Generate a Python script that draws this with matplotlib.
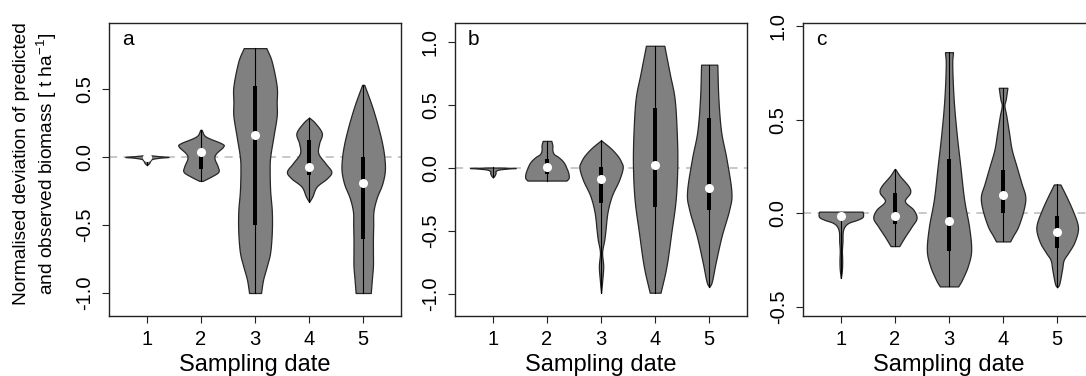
import numpy as np
import matplotlib
matplotlib.use("Agg")
import matplotlib.pyplot as plt
from matplotlib.patches import Rectangle

plt.rcParams['font.family'] = ['Liberation Sans', 'DejaVu Sans']
plt.rcParams['mathtext.default'] = 'regular'
plt.rcParams['axes.unicode_minus'] = False

# ---------------- data ----------------
dates = [1, 2, 3, 4, 5]
panel_labels = ['a', 'b', 'c']

# Panel a: violin outlines (value levels, half-widths)
a1_y = [-0.06, -0.045, -0.03, -0.015, -0.005, 0.0, 0.007, 0.015]
a1_w = [0.0, 0.04, 0.06, 0.10, 0.25, 0.40, 0.20, 0.0]
a2_y = [-0.176, -0.145, -0.11, -0.07, -0.01, 0.027, 0.076, 0.10, 0.15, 0.20]
a2_w = [0.03, 0.185, 0.32, 0.31, 0.25, 0.28, 0.41, 0.38, 0.09, 0.01]
a3_y = [-1.0, -0.9, -0.8, -0.7, -0.55, -0.4, -0.25, -0.1, 0.0, 0.15, 0.3, 0.4, 0.52, 0.7, 0.8]
a3_w = [0.11, 0.15, 0.22, 0.28, 0.31, 0.31, 0.28, 0.27, 0.28, 0.34, 0.40, 0.40, 0.40, 0.31, 0.21]
a4_y = [-0.33, -0.29, -0.218, -0.157, -0.108, -0.046, 0.027, 0.10, 0.175, 0.25, 0.29]
a4_w = [0.0, 0.06, 0.14, 0.33, 0.41, 0.30, 0.17, 0.185, 0.235, 0.11, 0.0]
a5_y = [-1.0, -0.9, -0.8, -0.7, -0.6, -0.5, -0.4, -0.3, -0.2, -0.1, 0.0, 0.1, 0.2, 0.3, 0.4, 0.53]
a5_w = [0.14, 0.16, 0.18, 0.18, 0.18, 0.185, 0.19, 0.25, 0.35, 0.40, 0.39, 0.35, 0.29, 0.22, 0.14, 0.02]
a_median = [0.0, 0.04, 0.16, -0.075, -0.19]
a_q1 = [-0.005, -0.085, -0.50, -0.13, -0.60]
a_q3 = [0.005, 0.05, 0.52, 0.125, 0.0]

# Panel b
b1_y = [-0.075, -0.06, -0.04, -0.025, -0.012, -0.004, 0.0, 0.004]
b1_w = [0.0, 0.03, 0.05, 0.05, 0.12, 0.30, 0.41, 0.0]
b2_y = [-0.10, -0.08, -0.05, -0.02, 0.0, 0.03, 0.06, 0.09, 0.11, 0.14, 0.18, 0.215]
b2_w = [0.36, 0.40, 0.40, 0.38, 0.36, 0.33, 0.28, 0.20, 0.13, 0.10, 0.10, 0.08]
b3_y = [-0.99, -0.9, -0.78, -0.67, -0.57, -0.5, -0.35, -0.22, -0.1, 0.0, 0.05, 0.1, 0.16, 0.22]
b3_w = [0.0, 0.02, 0.04, 0.02, 0.06, 0.08, 0.12, 0.20, 0.33, 0.40, 0.37, 0.30, 0.17, 0.0]
b4_y = [-0.99, -0.78, -0.51, -0.25, 0.02, 0.28, 0.55, 0.75, 0.97]
b4_w = [0.10, 0.21, 0.30, 0.38, 0.41, 0.40, 0.36, 0.27, 0.17]
b5_y = [-0.945, -0.9, -0.75, -0.54, -0.33, -0.19, 0.07, 0.29, 0.55, 0.82]
b5_w = [0.0, 0.05, 0.12, 0.23, 0.37, 0.41, 0.32, 0.22, 0.17, 0.15]
b_median = [np.nan, 0.01, -0.09, 0.02, -0.16]
b_q1 = [-0.004, -0.05, -0.28, -0.31, -0.33]
b_q3 = [0.0, 0.07, 0.01, 0.48, 0.40]

# Panel c
c1_y = [-0.345, -0.3, -0.25, -0.2, -0.15, -0.1, -0.07, -0.05, -0.035, -0.02, 0.0, 0.009]
c1_w = [0.0, 0.02, 0.025, 0.02, 0.03, 0.035, 0.07, 0.15, 0.30, 0.40, 0.41, 0.40]
c2_y = [-0.175, -0.125, -0.07, -0.025, 0.02, 0.065, 0.11, 0.145, 0.2, 0.235]
c2_w = [0.08, 0.185, 0.31, 0.40, 0.34, 0.185, 0.28, 0.25, 0.09, 0.01]
c3_y = [-0.39, -0.355, -0.28, -0.195, -0.07, 0.073, 0.25, 0.43, 0.61, 0.79, 0.86]
c3_w = [0.17, 0.24, 0.35, 0.41, 0.37, 0.28, 0.21, 0.14, 0.086, 0.06, 0.074]
c4_y = [-0.15, -0.12, -0.07, 0.02, 0.09, 0.16, 0.25, 0.34, 0.43, 0.52, 0.575, 0.61, 0.67]
c4_w = [0.13, 0.185, 0.28, 0.38, 0.41, 0.34, 0.25, 0.16, 0.11, 0.06, 0.025, 0.05, 0.08]
c5_y = [-0.395, -0.375, -0.30, -0.25, -0.213, -0.16, -0.097, -0.05, 0.02, 0.09, 0.154]
c5_w = [0.0, 0.04, 0.09, 0.12, 0.20, 0.31, 0.38, 0.37, 0.28, 0.17, 0.06]
c_median = [-0.015, -0.015, -0.04, 0.10, -0.10]
c_q1 = [-0.03, -0.055, -0.20, 0.0, -0.186]
c_q3 = [0.0, 0.11, 0.29, 0.23, -0.016]

a_ticks = [-1.0, -0.5, 0.0, 0.5]
b_ticks = [-1.0, -0.5, 0.0, 0.5, 1.0]
c_ticks = [-0.5, 0.0, 0.5, 1.0]

xlabel = 'Sampling date'
ylabel = 'Normalised deviation of predicted\nand observed biomass [ t ha$^{-1}$]'

# ---------------- drawing ----------------
def smooth(ys, ws, n=20):
    """Catmull-Rom curve through the read outline points."""
    P = np.column_stack([ys, ws]).astype(float)
    P = np.vstack([2 * P[0] - P[1], P, 2 * P[-1] - P[-2]])
    out = []
    t = np.linspace(0, 1, n, endpoint=False)[:, None]
    for i in range(1, len(P) - 2):
        p0, p1, p2, p3 = P[i - 1], P[i], P[i + 1], P[i + 2]
        c = 0.5 * ((2 * p1) + (-p0 + p2) * t + (2 * p0 - 5 * p1 + 4 * p2 - p3) * t ** 2
                   + (-p0 + 3 * p1 - 3 * p2 + p3) * t ** 3)
        out.append(c)
    out.append(P[-2][None, :])
    out = np.vstack(out)
    yy = np.clip(out[:, 0], min(ys), max(ys))
    ww = np.clip(out[:, 1], 0, None)
    return yy, ww

fig = plt.figure(figsize=(10.86, 3.76), dpi=100)

panels = [
    ([(a1_y, a1_w), (a2_y, a2_w), (a3_y, a3_w), (a4_y, a4_w), (a5_y, a5_w)],
     a_median, a_q1, a_q3, a_ticks, (-1.169, 0.985), 0.1004),
    ([(b1_y, b1_w), (b2_y, b2_w), (b3_y, b3_w), (b4_y, b4_w), (b5_y, b5_w)],
     b_median, b_q1, b_q3, b_ticks, (-1.175, 1.151), 0.4190),
    ([(c1_y, c1_w), (c2_y, c2_w), (c3_y, c3_w), (c4_y, c4_w), (c5_y, c5_w)],
     c_median, c_q1, c_q3, c_ticks, (-0.548, 1.016), 0.7394),
]

fill = '#808080'
edge = '#262626'
for (viol, med, q1, q3, ticks, ylim, left), lab in zip(panels, panel_labels):
    ax = fig.add_axes([left, 0.1596, 0.2689, 0.7793])
    ax.axhline(0, color='#c4c4c4', lw=1.3, ls=(0, (4.5, 3.5)), zorder=1)
    for x, (vy, vw), m, lo, hi in zip(dates, viol, med, q1, q3):
        yy, ww = smooth(vy, vw)
        ax.fill_betweenx(yy, x - ww, x + ww, facecolor=fill, edgecolor=edge,
                         linewidth=0.9, zorder=2)
        ax.plot([x, x], [min(vy), max(vy)], color='black', lw=0.8, zorder=3)
        bw = 0.075
        ax.add_patch(Rectangle((x - bw / 2, lo), bw, hi - lo, facecolor='black',
                               edgecolor='none', zorder=4))
        if not np.isnan(m):
            ax.plot([x], [m], 'o', ms=6.5, mfc='white', mec='none', zorder=5)
    ax.set_xlim(0.3, 5.7)
    ax.set_ylim(*ylim)
    ax.set_xticks(dates)
    ax.set_xticklabels([str(d) for d in dates], fontsize=14.5)
    ax.set_yticks(ticks)
    ax.set_yticklabels(['%.1f' % t for t in ticks], fontsize=14.5, rotation=90, va='center')
    ax.tick_params(direction='out', length=5, width=0.8, color='#222222')
    ax.tick_params(axis='x', pad=5)
    ax.tick_params(axis='y', pad=6)
    for s in ax.spines.values():
        s.set_linewidth(1.0)
        s.set_color('#222222')
    ax.set_xlabel(xlabel, fontsize=17, labelpad=4)
    ax.text(0.045, 0.945, lab, transform=ax.transAxes, ha='left', va='center', fontsize=15)

fig.text(0.033, 0.565, ylabel, rotation=90, ha='center', va='center',
         multialignment='center', fontsize=13.8, linespacing=1.3)

fig.savefig('out.png', dpi=100)
